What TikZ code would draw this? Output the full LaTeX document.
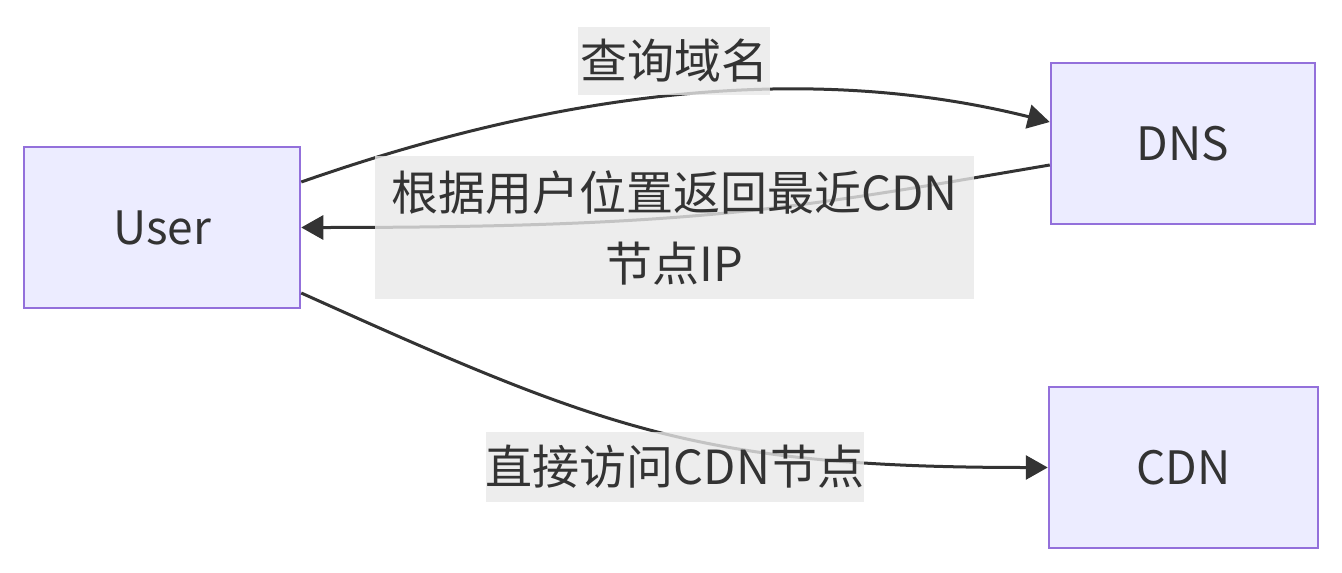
\documentclass[tikz,border=0pt]{standalone}
\usepackage{fontspec}
\setmainfont{Noto Sans CJK SC}
\usetikzlibrary{arrows.meta}
\definecolor{nodefill}{HTML}{ECECFF}
\definecolor{nodeborder}{HTML}{9370DB}
\definecolor{ink}{HTML}{333333}
\definecolor{lblbg}{HTML}{E8E8E8}
\begin{document}
\begin{tikzpicture}[x=1pt,y=-1pt,
  box/.style={draw=nodeborder, fill=nodefill, line width=2.5pt, text=ink, font=\fontsize{46}{69}\selectfont, inner sep=0pt},
  edge/.style={draw=ink, line width=3pt, -{Triangle[length=22pt,width=24pt]}},
  lbl/.style={fill=lblbg, fill opacity=0.8, text opacity=1, text=ink, font=\fontsize{47}{71}\selectfont, inner sep=0pt, align=center}]
\useasboundingbox (0,0) rectangle (1342,573);
\node[box, minimum width=276pt, minimum height=161pt] (user) at (162,227.5) {User};
\node[box, minimum width=264pt, minimum height=161pt] (dns) at (1183,143.5) {DNS};
\node[box, minimum width=269pt, minimum height=161pt] (cdn) at (1183.5,467.5) {CDN};
\draw[edge] ([yshift=45.5pt]user.east) .. controls +(250,-87.5) and +(-250,-62.5) .. ([yshift=21.5pt]dns.west);
\draw[edge] ([yshift=-21.5pt]dns.west) .. controls +(-250,42.5) and +(400,0) .. (user.east);
\draw[edge] ([yshift=-65.5pt]user.east) .. controls +(300,135) and +(-350,0) .. (cdn.west);
\node[lbl, minimum width=192pt, minimum height=68pt] (l1) at (674,61) {查询域名};
\node[lbl, minimum width=599pt, minimum height=143pt] (l2) at (674.5,227.5) {根据用户位置返回最近CDN\\节点IP};
\node[lbl, minimum width=376pt, minimum height=70pt] (l3) at (675,467) {直接访问CDN节点};
\end{tikzpicture}
\end{document}
